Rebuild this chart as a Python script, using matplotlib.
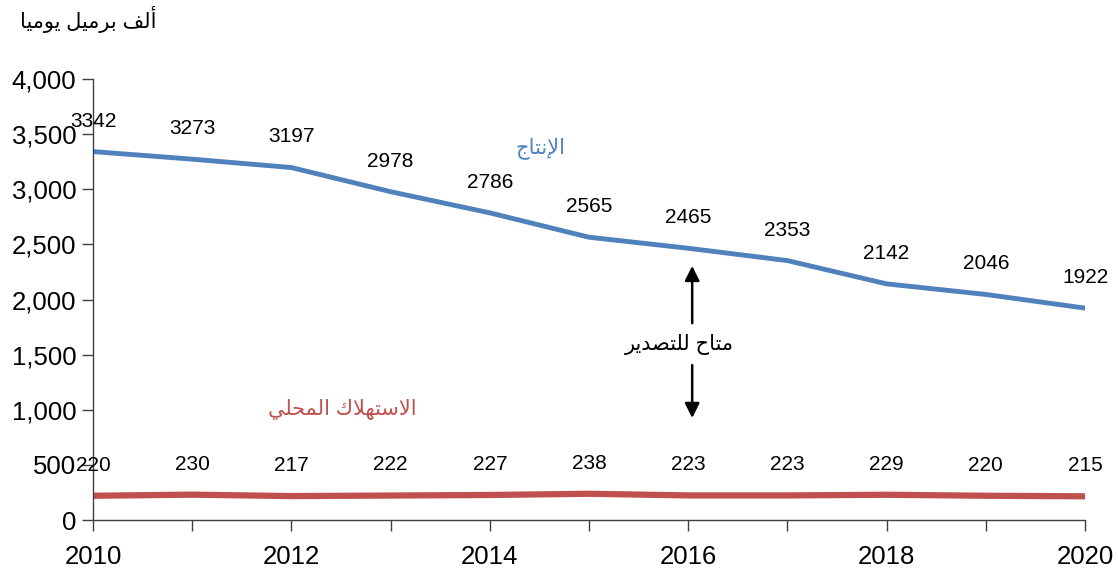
import matplotlib
matplotlib.use("Agg")
import matplotlib.pyplot as plt

# data
years = [2010, 2011, 2012, 2013, 2014, 2015, 2016, 2017, 2018, 2019, 2020]
production = [3342, 3273, 3197, 2978, 2786, 2565, 2465, 2353, 2142, 2046, 1922]
consumption = [220, 230, 217, 222, 227, 238, 223, 223, 229, 220, 215]
year_ticks = [2010, 2012, 2014, 2016, 2018, 2020]

unit_label = "ألف برميل يوميا"
prod_label = "الإنتاج"
cons_label = "الاستهلاك المحلي"
export_label = "متاح للتصدير"

# matplotlib does not shape arabic, so map letters to presentation forms by hand
# (isolated, final, initial, medial); None = letter does not join to the next one
forms = {
    'ا': ('\uFE8D', '\uFE8E', None, None),
    'أ': ('\uFE83', '\uFE84', None, None),
    'إ': ('\uFE87', '\uFE88', None, None),
    'ب': ('\uFE8F', '\uFE90', '\uFE91', '\uFE92'),
    'ت': ('\uFE95', '\uFE96', '\uFE97', '\uFE98'),
    'ج': ('\uFE9D', '\uFE9E', '\uFE9F', '\uFEA0'),
    'ح': ('\uFEA1', '\uFEA2', '\uFEA3', '\uFEA4'),
    'د': ('\uFEA9', '\uFEAA', None, None),
    'ر': ('\uFEAD', '\uFEAE', None, None),
    'س': ('\uFEB1', '\uFEB2', '\uFEB3', '\uFEB4'),
    'ص': ('\uFEB9', '\uFEBA', '\uFEBB', '\uFEBC'),
    'ف': ('\uFED1', '\uFED2', '\uFED3', '\uFED4'),
    'ك': ('\uFED9', '\uFEDA', '\uFEDB', '\uFEDC'),
    'ل': ('\uFEDD', '\uFEDE', '\uFEDF', '\uFEE0'),
    'م': ('\uFEE1', '\uFEE2', '\uFEE3', '\uFEE4'),
    'ن': ('\uFEE5', '\uFEE6', '\uFEE7', '\uFEE8'),
    'ه': ('\uFEE9', '\uFEEA', '\uFEEB', '\uFEEC'),
    'و': ('\uFEED', '\uFEEE', None, None),
    'ي': ('\uFEF1', '\uFEF2', '\uFEF3', '\uFEF4'),
    'لا': ('\uFEFB', '\uFEFC', None, None),
    'لأ': ('\uFEF7', '\uFEF8', None, None),
    'لإ': ('\uFEF9', '\uFEFA', None, None),
}


def shape(text):
    tokens = []
    i = 0
    while i < len(text):
        if text[i] == 'ل' and i + 1 < len(text) and text[i + 1] in 'اأإ':
            tokens.append(text[i:i + 2])
            i += 2
        else:
            tokens.append(text[i])
            i += 1
    out = []
    for k, t in enumerate(tokens):
        if t not in forms:
            out.append(t)
            continue
        f = forms[t]
        prev = tokens[k - 1] if k > 0 else None
        nxt = tokens[k + 1] if k + 1 < len(tokens) else None
        join_prev = prev in forms and forms[prev][2] is not None
        join_next = f[2] is not None and nxt in forms
        if join_prev and join_next:
            out.append(f[3])
        elif join_prev:
            out.append(f[1])
        elif join_next:
            out.append(f[2])
        else:
            out.append(f[0])
    return ''.join(reversed(out))


plt.rcParams['font.family'] = ['Liberation Sans', 'DejaVu Sans']

blue = '#4F81BD'
red = '#C0504D'

fig = plt.figure(figsize=(11.18, 5.71), dpi=100)
ax = fig.add_axes([0.0832, 0.0893, 0.8873, 0.7723])

ax.plot(years, production, color=blue, lw=3.5, solid_capstyle='round')
ax.plot(years, consumption, color=red, lw=4.5, solid_capstyle='round')

for x, v in zip(years, production):
    ax.annotate(str(v), (x, v), xytext=(0, 22), textcoords='offset points',
                ha='center', va='center', fontsize=15)
for x, v in zip(years, consumption):
    ax.annotate(str(v), (x, v), xytext=(0, 22), textcoords='offset points',
                ha='center', va='center', fontsize=15)

ax.set_xlim(2010, 2020)
ax.set_ylim(0, 4000)
ax.set_xticks(years, minor=True)
ax.set_xticks(year_ticks)
ax.set_yticks(range(0, 4001, 500))
ax.yaxis.set_major_formatter(matplotlib.ticker.StrMethodFormatter('{x:,.0f}'))

for s in ['top', 'right']:
    ax.spines[s].set_visible(False)
for s in ['left', 'bottom']:
    ax.spines[s].set_color('#404040')
    ax.spines[s].set_linewidth(1)
ax.tick_params(axis='both', which='both', direction='out', color='#404040',
               labelsize=18.5, length=8, width=1)
ax.tick_params(axis='x', pad=10)
ax.tick_params(axis='y', pad=4)

ax.text(2014.51, 3370, shape(prod_label), color=blue, fontsize=15,
        ha='center', va='center')
ax.text(2012.51, 1000, shape(cons_label), color=red, fontsize=15,
        ha='center', va='center')
ax.text(2015.91, 1590, shape(export_label), color='black', fontsize=15,
        ha='center', va='center')

ax.annotate('', xy=(2016.04, 2330), xytext=(2016.04, 1760),
            arrowprops=dict(arrowstyle='-|>', color='black', lw=1.8, mutation_scale=22))
ax.annotate('', xy=(2016.04, 900), xytext=(2016.04, 1430),
            arrowprops=dict(arrowstyle='-|>', color='black', lw=1.8, mutation_scale=22))

fig.text(0.079, 0.965, shape(unit_label), fontsize=15, ha='center', va='center')

fig.savefig('out.png', dpi=100)
